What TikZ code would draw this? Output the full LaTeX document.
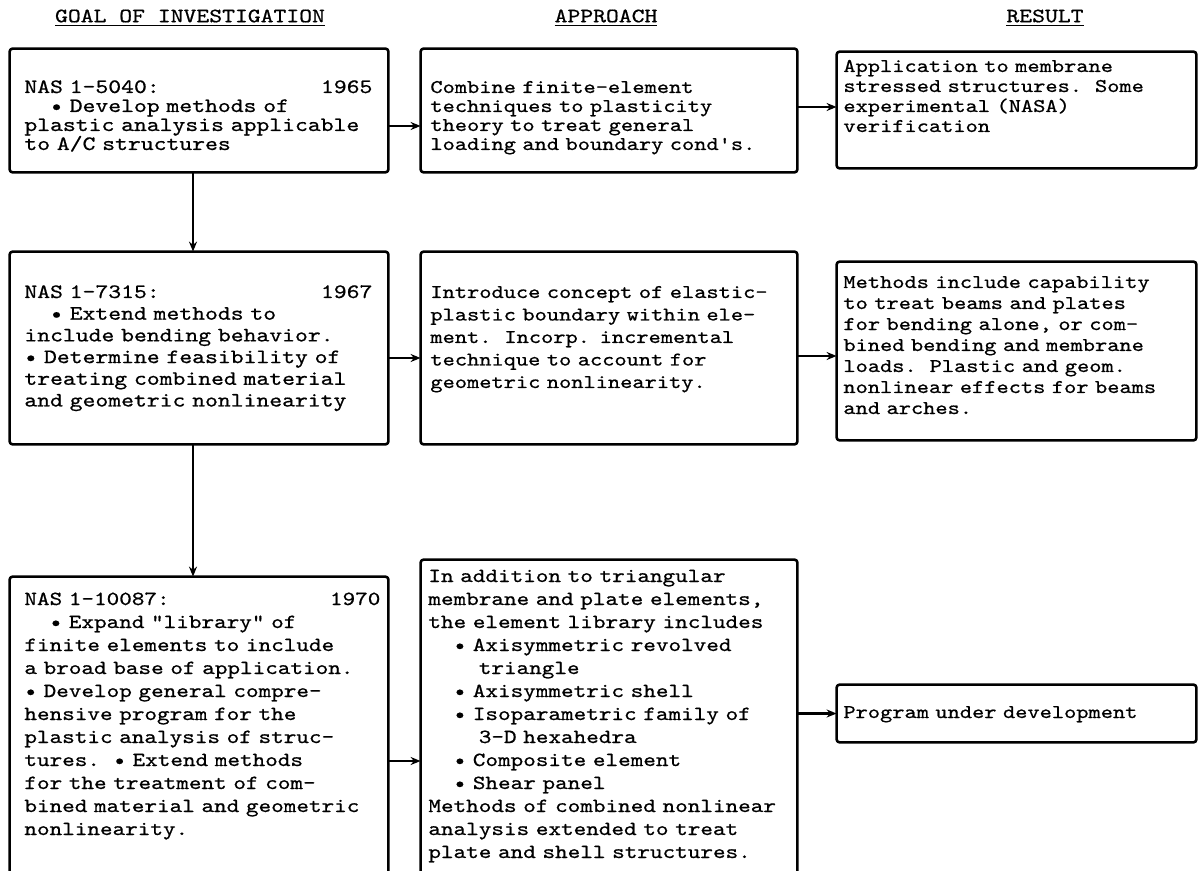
\documentclass[tikz,border=0pt]{standalone}
\usepackage{fontspec}
\newfontfamily\tw{Latin Modern Mono}[FakeStretch=1.2,FakeBold=0.7,Ligatures=TeXOff]
\usetikzlibrary{arrows.meta,fit}
\newcommand\indt[1]{\hspace*{#1\fontcharwd\font`0}}
\begin{document}
\begin{tikzpicture}[x=0.5pt,y=-0.5pt,
  boxn/.style={rectangle, inner sep=0pt},
  frame/.style={line width=1.3pt, line join=round, rounded corners=1.5pt},
  arr/.style={line width=1.2pt, -{Stealth[length=5pt,width=4pt]}},
  txt/.style={anchor=base west, align=left, inner sep=0pt},
  fA/.style 2 args={txt, text width=#1, font=\fontsize{10.2}{#2}\selectfont\tw},
  fB/.style 2 args={txt, text width=#1, font=\fontsize{9.7}{#2}\selectfont\tw},
  fB3/.style 2 args={txt, text width=#1, font=\fontsize{10}{#2}\selectfont\tw},
  head/.style={inner sep=0pt, font=\fontsize{10.2}{12}\selectfont\tw}
]
\useasboundingbox (0,0) rectangle (1198,871);

% headers
\node[head] (hA) at (190,18) {\underline{GOAL OF INVESTIGATION}};
\node[head] (hB) at (606,18) {\underline{APPROACH}};
\node[head] (hC) at (1045,18) {\underline{RESULT}};

% row 1
\node[boxn, fit={(10,49) (388,172)}] (A1) {};
\node[boxn, fit={(421,49) (797,172)}] (B1) {};
\node[boxn, fit={(837,52) (1196,168)}] (C1) {};
% row 2
\node[boxn, fit={(10,252) (388,444)}] (A2) {};
\node[boxn, fit={(421,252) (797,444)}] (B2) {};
\node[boxn, fit={(837,262) (1196,440)}] (C2) {};
% row 3
\node[boxn, fit={(10,577) (388,871)}] (A3) {};
\node[boxn, fit={(421,560) (797,871)}] (B3) {};
\node[boxn, fit={(837,685) (1196,742)}] (C3) {};

\foreach \b in {A1,B1,C1,A2,B2,C2,C3}{\draw[frame] (\b.south west) rectangle (\b.north east);}
\draw[frame] (A3.south west) -- (A3.north west) -- (A3.north east) -- (A3.south east);
\draw[frame] (B3.south west) -- (B3.north west) -- (B3.north east) -- (B3.south east);

% texts
\node[fA={174pt}{9.5pt}] (tA1) at (24,93) {NAS 1-5040:\hfill 1965\\
\indt{2}\textbullet{} Develop methods of\\
plastic analysis applicable\\
to A/C structures};
\node[fB={180pt}{9.5pt}] (tB1) at (430,93) {Combine finite-element\\
techniques to plasticity\\
theory to treat general\\
loading and boundary cond's.};
\node[fB={175pt}{10pt}] (tC1) at (843,72) {Application to membrane\\
stressed structures.\ \ Some\\
experimental (NASA)\\
verification};

\node[fA={174pt}{10.85pt}] (tA2) at (24,298) {NAS 1-7315:\hfill 1967\\
\indt{2}\textbullet{} Extend methods to\\
include bending behavior.\\
\textbullet{} Determine feasibility of\\
treating combined material\\
and geometric nonlinearity};
\node[fB={180pt}{11.25pt}] (tB2) at (430,298) {Introduce concept of elastic-\\
plastic boundary within ele-\\
ment.\ \ Incorp. incremental\\
technique to account for\\
geometric nonlinearity.};
\node[fB={175pt}{10.5pt}] (tC2) at (843,288) {Methods include capability\\
to treat beams and plates\\
for bending alone, or com-\\
bined bending and membrane\\
loads.\ \ Plastic and geom.\\
nonlinear effects for beams\\
and arches.};

\node[fB3={178pt}{11.5pt}] (tA3) at (24,605) {NAS 1-10087:\hfill 1970\\
\indt{2}\textbullet{} Expand "library" of\\
finite elements to include\\
a broad base of application.\\
\textbullet{} Develop general compre-\\
hensive program for the\\
plastic analysis of struc-\\
tures.\ \ \textbullet{} Extend methods\\
for the treatment of com-\\
bined material and geometric\\
nonlinearity.};
\node[fB3={184pt}{11.5pt}] (tB3) at (428,582) {In addition to triangular\\
membrane and plate elements,\\
the element library includes\\
\indt{2}\textbullet{} Axisymmetric revolved\\
\indt{4}triangle\\
\indt{2}\textbullet{} Axisymmetric shell\\
\indt{2}\textbullet{} Isoparametric family of\\
\indt{4}3-D hexahedra\\
\indt{2}\textbullet{} Composite element\\
\indt{2}\textbullet{} Shear panel\\
Methods of combined nonlinear\\
analysis extended to treat\\
plate and shell structures.};
\node[fB={175pt}{10pt}] (tC3) at (843,718) {Program under development};

% connectors
\coordinate (r1a) at (0,126);
\coordinate (r1b) at (0,107);
\coordinate (r2a) at (0,358);
\coordinate (r2b) at (0,356);
\coordinate (r3) at (0,761);
\coordinate (vx) at (193,0);
\draw[arr] (A1.east |- r1a) -- (B1.west |- r1a);
\draw[arr] (B1.east |- r1b) -- (C1.west |- r1b);
\draw[arr] (A2.east |- r2a) -- (B2.west |- r2a);
\draw[arr] (B2.east |- r2b) -- (C2.west |- r2b);
\draw[arr] (A3.east |- r3) -- (B3.west |- r3);
\draw[arr] (C3.west -| B3.east) -- (C3.west);
\draw[arr] (A1.south -| vx) -- (A2.north -| vx);
\draw[arr] (A2.south -| vx) -- (A3.north -| vx);
\end{tikzpicture}
\end{document}
